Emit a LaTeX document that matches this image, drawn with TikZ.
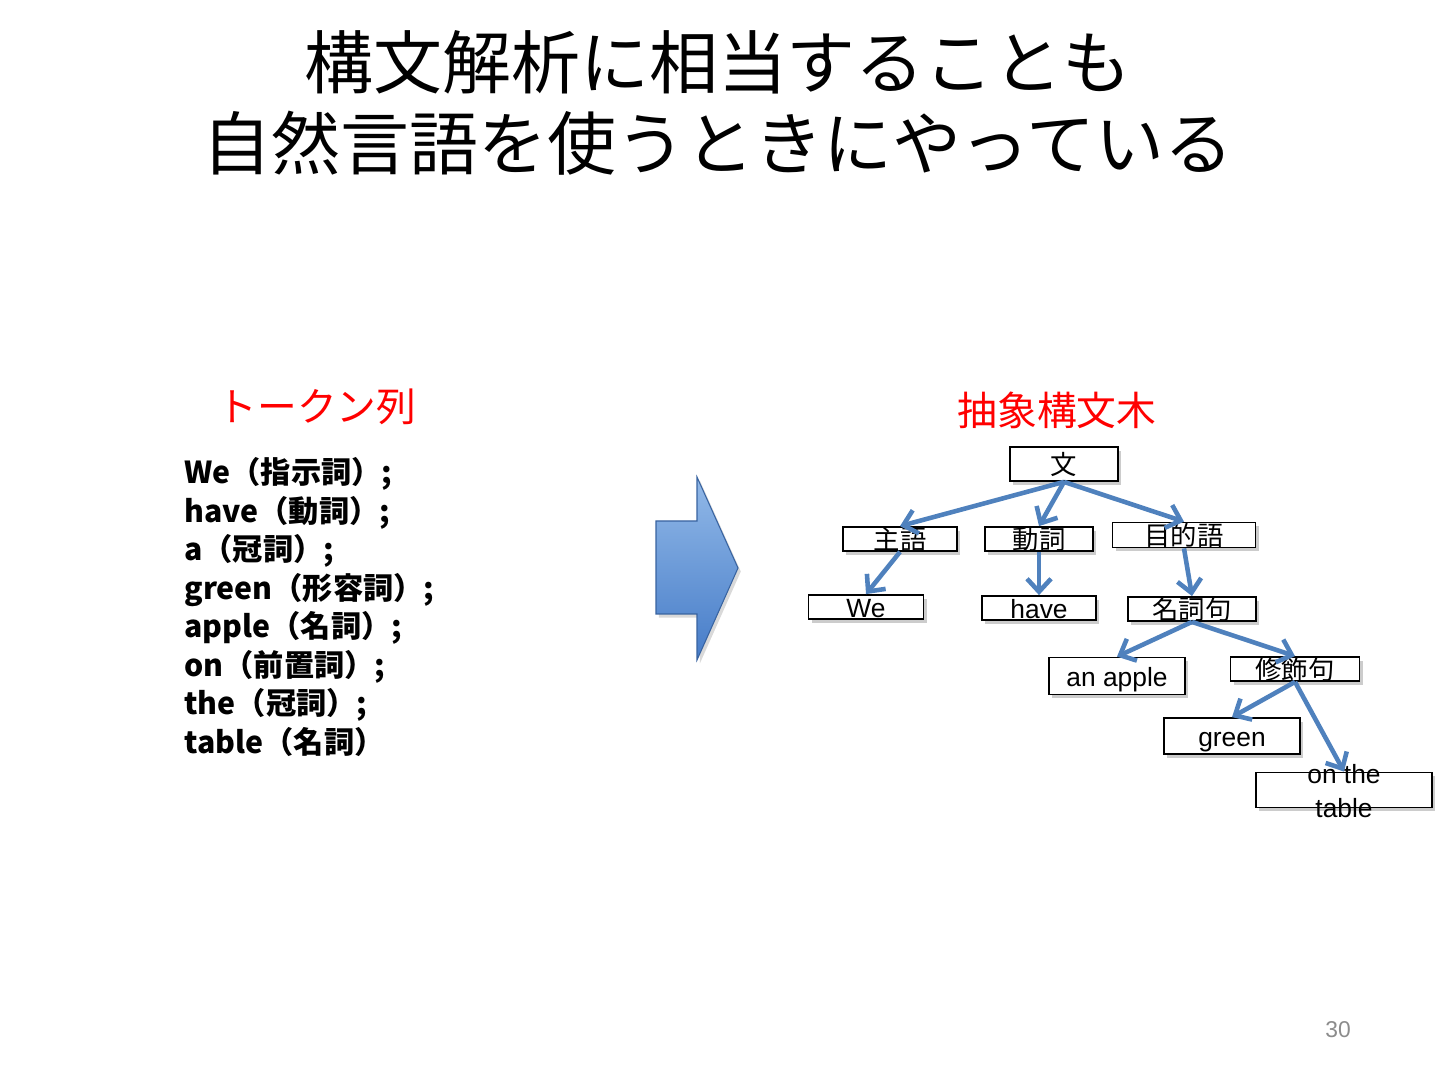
\documentclass[tikz,border=0pt]{standalone}
\usepackage{fontspec}
\setmainfont{Liberation Sans}
\newfontfamily\jpfont{Noto Sans CJK JP}
\usetikzlibrary{arrows.meta,shadows}
\definecolor{EdgeBlue}{RGB}{79,129,189}
\definecolor{ArrTop}{RGB}{146,185,232}
\definecolor{ArrBot}{RGB}{70,124,200}
\definecolor{HeadRed}{RGB}{255,0,0}
\tikzset{
  tbox/.style={draw=black,line width=0.5pt,fill=white,inner sep=0pt,
               text height=6pt,text depth=0.3pt,
               font=\fontsize{7.5}{9.4}\selectfont,
               drop shadow={shadow xshift=0.9pt,shadow yshift=-1.1pt,opacity=0.4}},
  jbox/.style={tbox,font=\jpfont\fontsize{7.5}{9.4}\selectfont},
  head/.style={font=\jpfont\fontsize{11.3}{13}\selectfont,text=HeadRed},
  edge/.style={-{Straight Barb[length=1.3mm,width=2.4mm]},line width=1.3pt,EdgeBlue},
}

\begin{document}
\begin{tikzpicture}[x=0.01cm,y=-0.01cm]
  \useasboundingbox (0,0) rectangle (1440,1080);

  \node[font=\jpfont\fontsize{19.6}{22.8}\selectfont,align=center] (title) at (718,103)
  {構文解析に相当することも\\自然言語を使うときにやっている};

  % left: token list
  \node[head] (tokhead) at (317,407) {トークン列};
  \node[font=\jpfont\bfseries\fontsize{8.6}{10.95}\selectfont,align=left,anchor=west]
    (tokens) at (172,607)
  {We（指示詞）;\\have（動詞）;\\a（冠詞）;\\green（形容詞）;\\
   apple（名詞）;\\on（前置詞）;\\the（冠詞）;\\table（名詞）};

  % big arrow
  \draw[draw=ArrBot!80!black,line width=0.3pt,top color=ArrTop,bottom color=ArrBot,
        drop shadow={shadow xshift=0.8pt,shadow yshift=-1pt,opacity=0.3}]
    (656,521) -- (697,521) -- (697,477) -- (738,568) -- (697,660)
    -- (697,614) -- (656,614) -- cycle;

  % right: syntax tree
  \node[head] (asthead) at (1057,410) {抽象構文木};

  \node[jbox,minimum width=1.08cm,minimum height=0.34cm] (bun)   at (1064,464) {文};
  \node[jbox,minimum width=1.14cm,minimum height=0.24cm] (shugo) at (900,539)  {主語};
  \node[jbox,minimum width=1.08cm,minimum height=0.24cm] (doshi) at (1039,539) {動詞};
  \node[jbox,minimum width=1.43cm,minimum height=0.25cm] (moku)  at (1184,535) {目的語};

  \node[tbox,minimum width=1.15cm,minimum height=0.24cm] (we)    at (866,607)  {We};
  \node[tbox,minimum width=1.14cm,minimum height=0.24cm] (have)  at (1039,608) {have};
  \node[jbox,minimum width=1.28cm,minimum height=0.24cm] (meishi) at (1192,609) {名詞句};

  \node[tbox,minimum width=1.36cm,minimum height=0.37cm] (apple) at (1117,676) {an apple};
  \node[jbox,minimum width=1.29cm,minimum height=0.24cm] (shu)   at (1295,669) {修飾句};
  \node[tbox,minimum width=1.36cm,minimum height=0.36cm] (green) at (1232,736) {green};
  \node[tbox,minimum width=1.76cm,minimum height=0.35cm] (table) at (1344,790)
    {\smash{\begin{tabular}{@{}c@{}}on the\\table\end{tabular}}};

  \draw[edge] (bun.south) -- (shugo.north);
  \draw[edge] (bun.south) -- (doshi.north);
  \draw[edge] (bun.south) -- (moku.north);
  \draw[edge] (shugo.south) -- (we.north);
  \draw[edge] (doshi.south) -- (have.north);
  \draw[edge] (moku.south) -- (meishi.north);
  \draw[edge] (meishi.south) -- (apple.north);
  \draw[edge] (meishi.south) -- (shu.north);
  \draw[edge] (shu.south) -- (green.north);
  \draw[edge] (shu.south) -- (table.north);

  \node[font=\fontsize{6.5}{8}\selectfont,text=black!45] (pageno) at (1338,1030) {30};
\end{tikzpicture}
\end{document}
